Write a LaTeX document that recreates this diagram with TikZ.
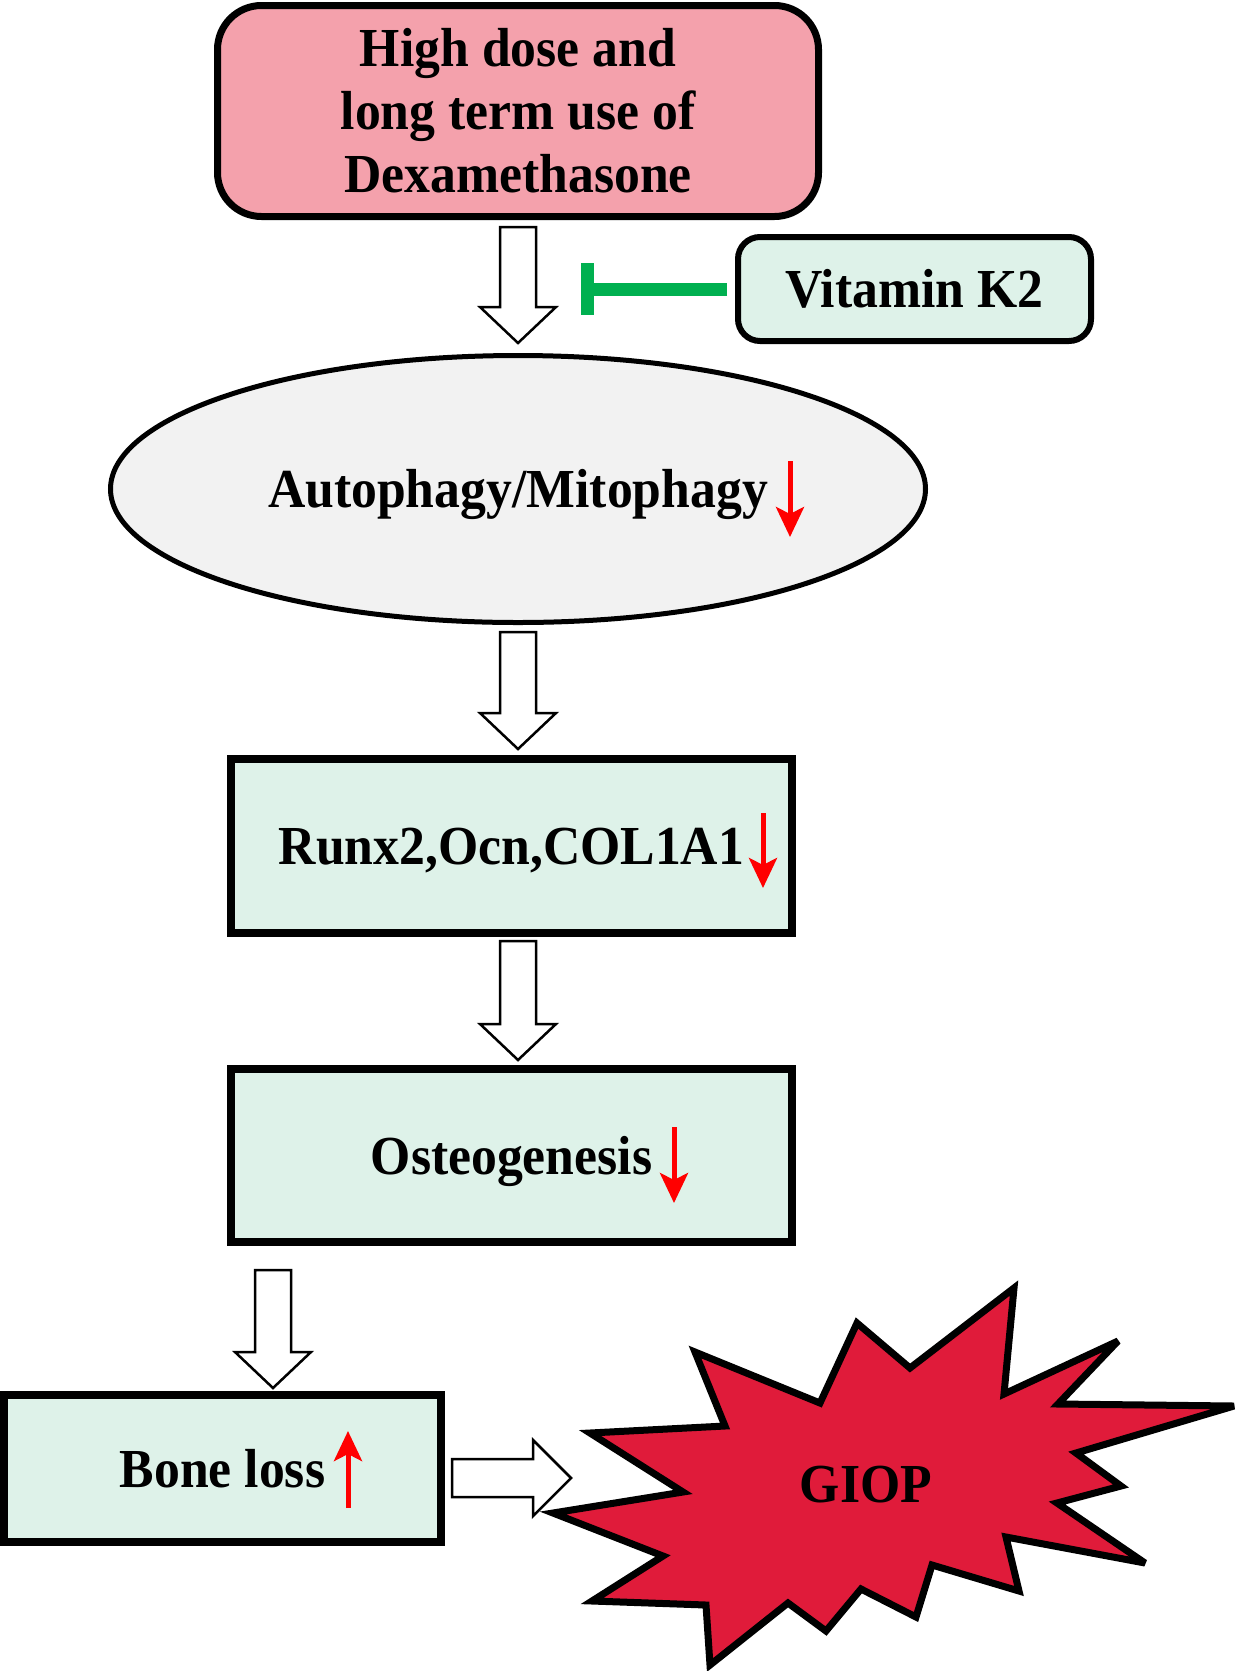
\documentclass[tikz,border=0pt]{standalone}
\usepackage{fontspec}
\newfontfamily\tnr{Liberation Serif}[FakeStretch=0.94]
\usetikzlibrary{calc,arrows.meta,shapes.geometric}
\definecolor{pinkbox}{RGB}{244,161,172}
\definecolor{mint}{RGB}{222,242,233}
\definecolor{greyell}{RGB}{242,242,242}
\definecolor{inhgreen}{RGB}{0,176,80}
\definecolor{starred}{RGB}{224,27,58}
\newcommand{\hollowdown}[2]{\draw[hollow] let \p1=(#1), \p2=(#2) in
  (\x1-18pt,\y1) -- (\x1+18pt,\y1) -- (\x1+18pt,\y2+36pt) -- (\x1+38pt,\y2+36pt)
  -- (\x1,\y2) -- (\x1-38pt,\y2+36pt) -- (\x1-18pt,\y2+36pt) -- cycle;}
\newcommand{\hollowright}[2]{\draw[hollow] let \p1=(#1), \p2=(#2) in
  (\x1,\y1+19pt) -- (\x2-38pt,\y1+19pt) -- (\x2-38pt,\y1+38pt) -- (\x2,\y1)
  -- (\x2-38pt,\y1-38pt) -- (\x2-38pt,\y1-19pt) -- (\x1,\y1-19pt) -- cycle;}
\begin{document}
\begin{tikzpicture}[x=1pt,y=-1pt,
  lbl/.style={font=\tnr\bfseries\fontsize{55}{63}\selectfont, inner sep=0pt},
  one/.style={lbl, text height=37pt, text depth=0pt},
  mintbox/.style={one, draw, fill=mint, line width=8pt, minimum width=561pt},
  hollow/.style={draw=black, fill=white, line width=2.5pt, line join=miter},
  redarr/.style={draw=red, line width=5pt, -{Stealth[length=30pt,width=28pt,inset=7pt]}},
  inhib/.style={draw=inhgreen, line width=13pt, line cap=butt}]
\useasboundingbox (0,0) rectangle (1240,1671);
% nodes
\node[lbl, draw, fill=pinkbox, line width=7pt, rounded corners=44pt, align=center,
      minimum width=601pt, minimum height=211pt] (top) at (518,111)
      {High dose and\\ long term use of\\ Dexamethasone};
\node[one, draw, fill=mint, line width=6pt, rounded corners=22pt,
      minimum width=353pt, minimum height=104pt] (vit) at (914.5,289) {Vitamin K2};
\node[one, ellipse, draw, fill=greyell, line width=5pt,
      minimum width=815pt, minimum height=267pt] (ell) at (518,489) {Autophagy/Mitophagy};
\node[mintbox, minimum height=174pt] (runx) at (511.5,846) {Runx2,Ocn,COL1A1};
\node[mintbox, minimum height=173pt] (osteo) at (511.5,1155.5) {Osteogenesis};
\node[one, draw, fill=mint, line width=8pt, minimum width=437pt, minimum height=147pt]
      (bone) at (222.5,1468.5) {Bone loss};
% star
\draw[fill=starred, line width=7pt, line join=miter, miter limit=4]
  (1014,1288) -- (1004,1394) -- (1118,1341) -- (1058,1404) -- (1234,1406) -- (1076,1453)
  -- (1121,1486) -- (1057,1503) -- (1145,1563) -- (1006,1537) -- (1019,1591) -- (932,1565)
  -- (916,1617) -- (861,1589) -- (826,1631) -- (788,1603) -- (710,1665) -- (706,1605)
  -- (592,1601) -- (663,1556) -- (553,1513) -- (683,1492) -- (590,1433) -- (725,1426)
  -- (695,1352) -- (820,1403) -- (857,1323) -- (910,1368) -- cycle;
\node[one] (giop) at (866,1483.5) {GIOP};
% block arrows (connectors)
\coordinate (a1s) at ($(top.south)+(0,7)$);
\coordinate (a1e) at ($(ell.north)+(0,-10)$);
\hollowdown{a1s}{a1e}
\coordinate (a2s) at ($(ell.south)+(0,7)$);
\coordinate (a2e) at ($(ell.south |- runx.north)+(0,-6)$);
\hollowdown{a2s}{a2e}
\coordinate (a3s) at ($(ell.south |- runx.south)+(0,4)$);
\coordinate (a3e) at ($(ell.south |- osteo.north)+(0,-5)$);
\hollowdown{a3s}{a3e}
\coordinate (a4s) at ($(bone.north |- osteo.south)+(50.5,24)$);
\coordinate (a4e) at ($(bone.north)+(50.5,-3)$);
\hollowdown{a4s}{a4e}
\coordinate (a5s) at ($(bone.east)+(7,9.5)$);
\coordinate (a5e) at ($(bone.east)+(126,9.5)$);
\hollowright{a5s}{a5e}
% inhibition by vitamin K2
\coordinate (vkbar) at ($(vit.west)+(-148,0)$);
\draw[inhib] ($(vit.west)+(-8,0)$) -- ($(vkbar)+(6.5,0)$);
\draw[inhib] ($(vkbar)+(0,-26)$) -- ($(vkbar)+(0,26)$);
% red up/down marks
\draw[redarr] (790,461) -- (790,537);
\draw[redarr] (763,813) -- (763,888);
\draw[redarr] (674,1127) -- (674,1203);
\draw[redarr] (348,1508) -- (348,1431);
\end{tikzpicture}
\end{document}
